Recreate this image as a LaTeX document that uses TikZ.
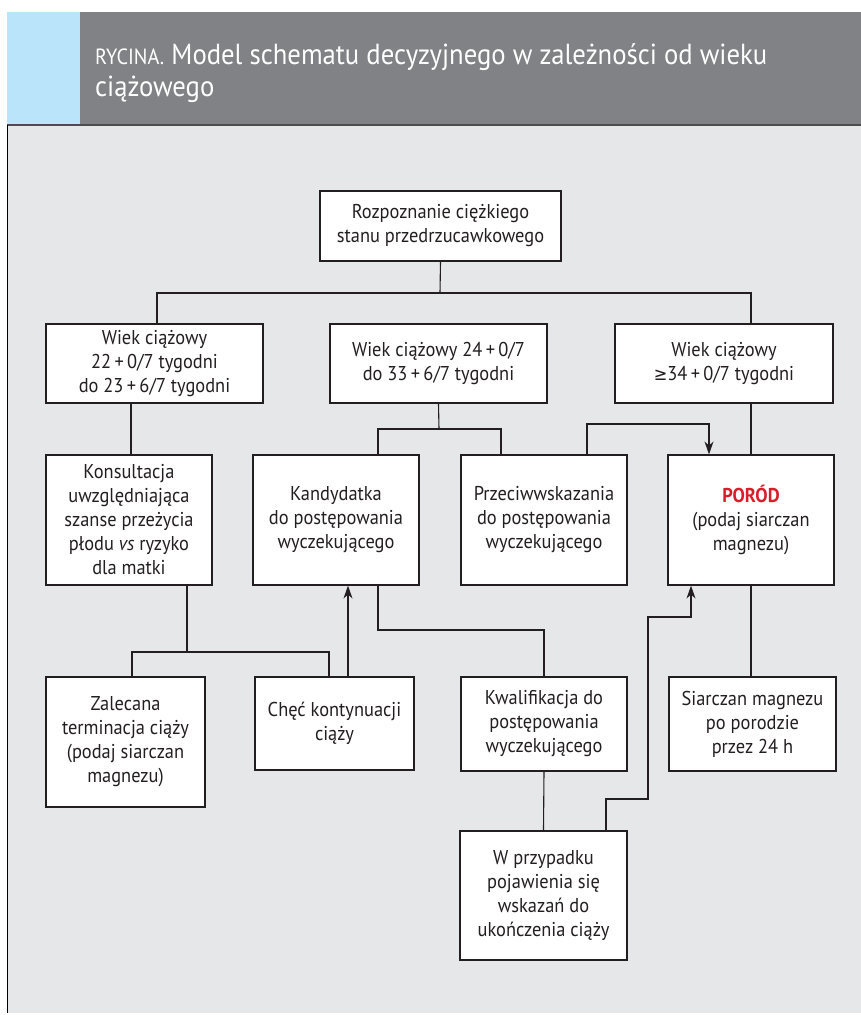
\documentclass[tikz,border=0pt]{standalone}
\usepackage{fontspec}
\setmainfont{PT Sans}[FakeStretch=0.92]
\newfontfamily\symfont{DejaVu Sans}[FakeStretch=0.9]
\usetikzlibrary{arrows.meta}
\definecolor{hdrblue}{HTML}{B9E4F9}
\definecolor{hdrgray}{HTML}{808285}
\definecolor{panel}{HTML}{E6E7E8}
\definecolor{hdrline}{HTML}{4D4D4F}
\definecolor{porod}{HTML}{D71F2B}
\definecolor{linec}{HTML}{231F20}
\begin{document}
\begin{tikzpicture}[x=1pt,y=-1pt,
  box/.style={draw=linec, line width=1.2pt, fill=white, align=center, inner sep=0pt, text=linec, font=\fontsize{20}{24}\selectfont},
  conn/.style={draw=linec, line width=1.1pt},
  arr/.style={conn, -{Stealth[length=13pt,width=9pt]}}]
\useasboundingbox (0,0) rectangle (861,1015);
% background and header
\fill[white] (0,0) rectangle (861,1015);
\fill[panel] (7,124) rectangle (861,1013);
\fill[hdrblue] (7,12) rectangle (80,124);
\fill[hdrgray] (80,12) rectangle (861,124);
\draw[hdrline, line width=2pt] (7,124.5) -- (861,124.5);
\draw[black, line width=1.3pt] (7.5,125) -- (7.5,1013);
\node[anchor=north west, inner sep=0pt, text=white, align=left, font=\fontsize{29}{32}\selectfont] (title) at (95,43.5)
  {{\fontsize{22}{32}\selectfont RYCINA.} Model schematu decyzyjnego w zależności od wieku\\ciążowego};
% boxes
\node[box, minimum width=241pt, minimum height=70pt] (top) at (440.5,226) {Rozpoznanie ciężkiego\\stanu przedrzucawkowego};
\node[box, minimum width=217pt, minimum height=79pt] (A1) at (154.5,363.5) {Wiek ciążowy\\22\,+\,0/7 tygodni\\do 23\,+\,6/7 tygodni};
\node[box, minimum width=217pt, minimum height=79pt] (A2) at (438.5,363.5) {Wiek ciążowy 24\,+\,0/7\\do 33\,+\,6/7 tygodni};
\node[box, minimum width=218pt, minimum height=79pt] (A3) at (724,363.5) {Wiek ciążowy\\{\symfont\fontsize{18}{24}\selectfont ≥}34\,+\,0/7 tygodni};
\node[box, minimum width=166pt, minimum height=130pt] (B1) at (129,520) {Konsultacja\\uwzględniająca\\szanse przeżycia\\płodu \textit{vs} ryzyko\\dla matki};
\node[box, minimum width=166pt, minimum height=130pt] (B2) at (336,520) {Kandydatka\\do postępowania\\wyczekującego};
\node[box, minimum width=166pt, minimum height=130pt] (B3) at (544,520) {Przeciwwskazania\\do postępowania\\wyczekującego};
\node[box, minimum width=166pt, minimum height=130pt] (B4) at (751,520) {{\color{porod}\bfseries PORÓD}\\(podaj siarczan\\magnezu)};
\node[box, minimum width=159pt, minimum height=130pt] (C1) at (125.5,742) {Zalecana\\terminacja ciąży\\(podaj siarczan\\magnezu)};
\node[box, minimum width=159pt, minimum height=93pt] (C2) at (334.5,723.5) {Chęć kontynuacji\\ciąży};
\node[box, minimum width=166pt, minimum height=94pt] (C3) at (544,724) {Kwalifikacja do\\postępowania\\wyczekującego};
\node[box, minimum width=167pt, minimum height=94pt] (C4) at (752.5,724) {Siarczan magnezu\\po porodzie\\przez 24 h};
\node[box, minimum width=167pt, minimum height=129pt] (D) at (543.5,895.5) {W przypadku\\pojawienia się\\wskazań do\\ukończenia ciąży};
% junctions
\coordinate (j1) at (440,293);
\coordinate (j2) at (439,429);
\coordinate (j3) at (648,424);
\coordinate (j4) at (460,630);
\coordinate (j5) at (187,652);
\coordinate (j6) at (648,799);
\coordinate (j7) at (648,617);
% connectors
\draw[conn] (top.south) -- (j1);
\draw[conn] ([xshift=2.5pt]A1.north) |- (j1) -| ([xshift=27pt]A3.north);
\draw[conn] ([xshift=2pt]B1.north) -- ([xshift=2pt]B1.north |- A1.south);
\draw[conn] (A2.south) -- (j2);
\draw[conn] ([xshift=42pt]B2.north) |- (j2) -| ([xshift=-43pt]B3.north);
\draw[arr] ([xshift=43pt]B3.north) |- (j3) -| ([xshift=-42pt]B4.north);
\draw[conn] (B4.north) -- (B4.north |- A3.south);
\draw[conn] ([xshift=42pt]B2.south) |- (j4) -| (C3.north);
\draw[arr] ([xshift=13.5pt]C2.north) -- ([xshift=13.5pt]C2.north |- B2.south);
\draw[conn] ([xshift=58pt]B1.south) -- (j5);
\draw[conn] ([xshift=6.5pt]C1.north) |- (j5) -| ([xshift=-5.5pt]C2.north);
\draw[conn] (B4.south) -- (B4.south |- C4.north);
\draw[conn] (C3.south) -- (D.north);
\draw[arr] ([xshift=62.5pt]D.north) |- (j6) -- (j7) -| ([xshift=-60pt]B4.south);
\end{tikzpicture}
\end{document}
